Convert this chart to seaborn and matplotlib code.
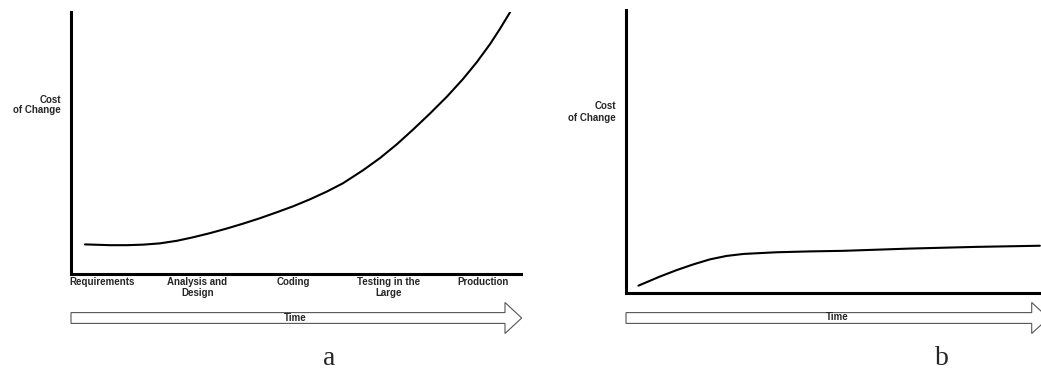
import matplotlib
matplotlib.use("Agg")
import matplotlib.pyplot as plt
from matplotlib.patches import Polygon
import seaborn as sns
import pandas as pd

# data (0-100 scale)
phases = ["Requirements", "Analysis and\nDesign", "Coding", "Testing in the\nLarge", "Production"]
phase_pos = [7.0, 28.1, 49.4, 70.5, 91.6]

time_a = [3.1, 8.7, 12.4, 16.0, 19.8, 23.6, 27.1, 30.9, 34.7, 38.2, 42.0, 45.8, 49.3, 53.1,
          56.9, 60.4, 64.9, 68.7, 72.4, 76.0, 79.8, 83.6, 87.1, 90.2, 93.1, 95.3, 97.6]
cost_a = [11.3, 11.0, 11.0, 11.2, 11.7, 12.7, 14.0, 15.6, 17.4, 19.2, 21.3, 23.6, 25.8, 28.5,
          31.5, 34.6, 39.6, 44.3, 49.5, 55.1, 61.3, 67.8, 74.4, 80.9, 87.7, 93.5, 100.0]

time_b = [2.8, 7.6, 11.4, 15.1, 18.9, 22.6, 26.4, 30.1, 33.9, 41.3, 48.8, 63.8, 78.8, 93.0]
cost_b = [2.6, 5.8, 8.1, 10.1, 11.9, 13.1, 13.8, 14.1, 14.4, 14.7, 14.9, 15.7, 16.3, 16.7]

sns.set_theme(style="white")
plt.rcParams['font.family'] = ['Liberation Sans', 'DejaVu Sans']

W, H = 1041, 371
fig = plt.figure(figsize=(W / 100, H / 100), dpi=100)
fig.patch.set_facecolor("white")

ax_a = fig.add_axes([71 / W, (H - 274) / H, 450 / W, 262 / H])
ax_b = fig.add_axes([626 / W, (H - 293) / H, 445 / W, 283 / H])

df_a = pd.DataFrame({"time": time_a, "cost": cost_a})
df_b = pd.DataFrame({"time": time_b, "cost": cost_b})
sns.lineplot(data=df_a, x="time", y="cost", ax=ax_a, color="black", linewidth=1.5)
sns.lineplot(data=df_b, x="time", y="cost", ax=ax_b, color="black", linewidth=1.5)

for ax in (ax_a, ax_b):
    ax.set_xlim(0, 100)
    ax.set_ylim(0, 100)
    ax.set_xlabel("")
    ax.set_ylabel("")
    ax.set_yticks([])
    ax.patch.set_alpha(0)
    for side in ("top", "right"):
        ax.spines[side].set_visible(False)
    for side in ("left", "bottom"):
        ax.spines[side].set_visible(True)
        ax.spines[side].set_color("black")
        ax.spines[side].set_linewidth(2.2)

ax_a.set_xticks(phase_pos)
ax_a.set_xticklabels(phases, fontsize=7, fontweight="bold", linespacing=1.05)
ax_a.tick_params(axis="x", length=0, pad=2.5)
ax_b.set_xticks([])

# overlay in pixel coords for annotations
ov = fig.add_axes([0, 0, 1, 1])
ov.set_xlim(0, W)
ov.set_ylim(H, 0)
ov.axis("off")
ov.patch.set_alpha(0)


def time_arrow(x0, x1, tip, yc):
    pts = [(x0, yc - 5.4), (x1, yc - 5.4), (x1, yc - 15.5), (tip, yc),
           (x1, yc + 15.5), (x1, yc + 5.4), (x0, yc + 5.4)]
    ov.add_patch(Polygon(pts, closed=True, facecolor="white",
                         edgecolor="#555555", linewidth=0.8))


time_arrow(71, 505, 521.7, 318)
time_arrow(626, 1031.7, 1048.5, 318)
ov.text(295, 318, "Time", ha="center", va="center", fontsize=7, fontweight="bold")
ov.text(837, 317, "Time", ha="center", va="center", fontsize=7, fontweight="bold")

ov.text(61, 105, "Cost\nof Change", ha="right", va="center", fontsize=7,
        fontweight="bold", linespacing=1.1)
ov.text(616, 112, "Cost\nof Change", ha="right", va="center", fontsize=7,
        fontweight="bold", linespacing=1.25)

ov.text(329, 365, "a", ha="center", va="baseline", fontsize=20,
        family=["Liberation Serif", "DejaVu Serif"])
ov.text(942, 365, "b", ha="center", va="baseline", fontsize=20,
        family=["Liberation Serif", "DejaVu Serif"])

fig.savefig("out.png", dpi=100)
